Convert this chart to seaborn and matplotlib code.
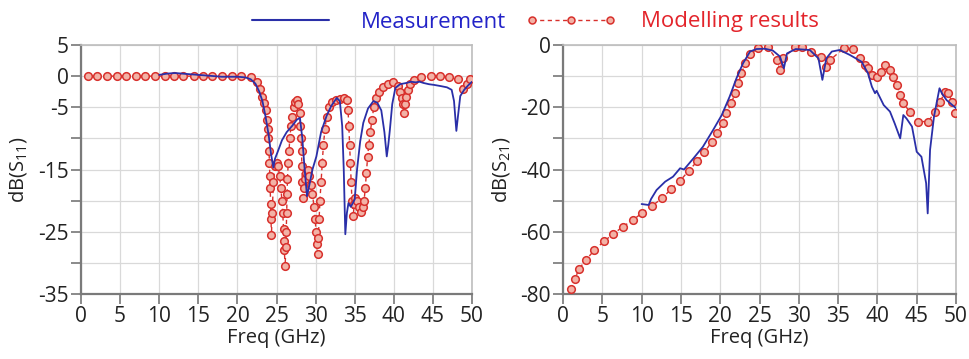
import numpy as np
import pandas as pd
import matplotlib
matplotlib.use("Agg")
import matplotlib.pyplot as plt
import seaborn as sns
from matplotlib.lines import Line2D

# ---------------- data ----------------
# S11 measurement
s11_meas_f = [10.0, 11.0, 12.0, 13.0, 14.0, 15.0, 16.0, 17.0, 18.0, 19.0, 20.0, 21.0, 21.7, 22.3, 22.8,
              23.2, 23.6, 24.0, 24.3, 24.6, 24.8, 25.2, 25.7, 26.3, 27.0, 27.6, 28.0, 28.3, 28.6, 28.9,
              29.2, 29.6, 30.1, 30.7, 31.4, 32.0, 32.7, 33.1, 33.4, 33.6, 33.8, 34.0, 34.2, 34.5, 34.8,
              35.0, 35.3, 35.7, 36.1, 36.7, 37.4, 37.9, 38.4, 38.8, 39.1, 39.3, 39.5, 39.8, 40.2, 40.8,
              41.6, 42.2, 42.8, 43.3, 43.8, 44.5, 45.1, 46.0, 46.8, 47.4, 47.7, 48.0, 48.2, 48.5, 49.0,
              49.5, 50.0]
s11_meas_db = [0.2, 0.4, 0.5, 0.4, 0.3, 0.2, 0.1, 0.0, -0.1, -0.1, -0.1, -0.2, -0.5, -1.2, -2.5,
               -4.0, -6.5, -9.5, -12.5, -14.7, -13.3, -12.0, -10.3, -9.0, -8.0, -7.0, -6.7, -10.0, -15.0, -19.3,
               -17.5, -15.0, -12.9, -9.0, -6.4, -4.8, -3.5, -4.0, -8.0, -15.0, -25.4, -22.0, -20.4, -21.0, -20.3,
               -19.8, -15.0, -10.5, -7.5, -5.2, -4.0, -4.3, -5.5, -9.0, -12.9, -11.0, -8.6, -4.5, -1.9, -1.3,
               -1.1, -0.9, -1.0, -0.9, -1.1, -1.3, -1.4, -1.6, -1.8, -2.2, -4.0, -8.8, -6.5, -3.2, -2.2,
               -1.5, -0.9]

# S11 modelling
s11_mod_f = [0.9, 2.1, 3.3, 4.6, 5.8, 7.0, 8.2, 9.5, 10.7, 11.9, 13.1, 14.4, 15.6, 16.8, 18.0, 19.3, 20.5,
             21.7, 22.5, 22.9, 23.2, 23.4, 23.6, 23.75, 23.85, 23.95, 24.05, 24.1, 24.15, 24.2, 24.25, 24.3,
             24.35, 24.45, 24.6, 24.8, 25.0, 25.2, 25.4, 25.55, 25.7, 25.8, 25.9, 25.95, 26.0, 26.1, 26.2,
             26.25, 26.3, 26.35, 26.4, 26.5, 26.6, 26.7, 26.85, 27.0, 27.2, 27.4, 27.6, 27.8, 27.95, 28.05,
             28.15, 28.2, 28.25, 28.3, 28.4, 28.5, 28.65, 28.8, 29.0, 29.2, 29.4, 29.6, 29.8, 29.95, 30.05,
             30.15, 30.25, 30.35, 30.45, 30.55, 30.7, 30.85, 31.0, 31.2, 31.4, 31.7, 32.1, 32.6, 33.1, 33.6,
             34.0, 34.15, 34.25, 34.35, 34.45, 34.55, 34.65, 34.8, 34.95, 35.1, 35.3, 35.5, 35.75, 36.0,
             36.2, 36.35, 36.5, 36.65, 36.8, 37.0, 37.2, 37.45, 37.75, 38.1, 38.6, 39.2, 39.9, 40.5, 40.8,
             41.0, 41.15, 41.3, 41.45, 41.6, 41.8, 42.1, 42.6, 43.5, 44.7, 45.9, 47.1, 48.2, 48.8, 49.3, 49.7]
s11_mod_db = [0.0, 0.0, 0.0, 0.0, 0.0, 0.0, 0.0, 0.0, 0.0, 0.0, 0.0, 0.0, 0.0, 0.0, 0.0, 0.0, 0.0,
              -0.2, -1.0, -2.0, -3.3, -4.3, -5.5, -7.0, -8.5, -10.0, -12.0, -14.0, -16.0, -18.0, -20.5, -23.0,
              -25.5, -22.0, -17.0, -14.5, -14.0, -14.5, -16.0, -18.0, -20.0, -22.0, -24.5, -26.5, -28.0, -30.5, -27.5,
              -25.0, -22.0, -19.0, -16.5, -14.0, -12.0, -10.0, -8.0, -6.5, -5.0, -4.2, -3.8, -4.5, -6.0, -8.0,
              -10.0, -12.0, -14.5, -17.0, -19.5, -18.0, -16.5, -15.5, -15.0, -16.0, -17.5, -19.0, -21.0, -23.0, -25.0,
              -27.0, -28.5, -26.0, -23.0, -20.0, -17.0, -14.0, -11.0, -8.5, -6.5, -5.0, -4.2, -3.8, -3.6, -3.5,
              -3.8, -5.5, -8.0, -11.0, -14.0, -17.0, -20.0, -22.5, -20.5, -19.5, -20.0, -21.0, -21.8, -21.0,
              -20.0, -18.0, -15.5, -13.0, -11.0, -9.0, -7.0, -5.0, -3.5, -2.5, -1.8, -1.2, -1.0, -1.6, -2.6,
              -3.5, -4.5, -5.9, -4.5, -3.3, -2.3, -1.3, -0.6, -0.2, 0.0, 0.0, -0.1, -0.5, -2.0, -1.2, -0.5]

# S21 measurement
s21_meas_f = [10.0, 10.9, 11.2, 11.9, 13.0, 14.0, 14.9, 15.4, 16.6, 17.8, 19.1, 20.2, 21.2, 22.1, 22.9,
              23.8, 24.6, 25.7, 26.7, 27.6, 28.1, 28.5, 29.6, 31.4, 32.5, 33.0, 33.5, 34.2, 35.2, 36.5,
              38.0, 38.8, 39.3, 39.7, 39.9, 40.8, 41.6, 42.2, 42.9, 43.3, 43.7, 44.4, 45.0, 45.6, 46.2,
              46.4, 46.7, 47.2, 47.9, 48.2, 48.8, 50.0]
s21_meas_db = [-51.1, -51.4, -49.5, -46.6, -43.9, -42.3, -39.6, -40.0, -36.4, -32.7, -27.3, -22.5, -16.6, -10.5, -5.9,
               -2.1, -1.3, -1.2, -1.8, -3.7, -7.5, -2.7, -1.3, -1.6, -4.3, -11.2, -4.3, -2.1, -1.6, -3.2,
               -5.4, -9.1, -13.4, -15.5, -14.7, -19.3, -21.4, -25.2, -30.0, -22.5, -23.6, -26.2, -34.3, -35.9, -44.4,
               -54.1, -33.7, -23.0, -13.9, -15.5, -17.7, -20.3]

# S21 modelling
s21_mod_f = [1.0, 1.5, 2.0, 2.9, 4.0, 5.2, 6.4, 7.6, 8.9, 10.0, 11.3, 12.6, 13.7, 14.9, 16.0, 17.1, 18.0,
             18.9, 19.6, 20.3, 20.8, 21.4, 21.9, 22.3, 22.7, 23.2, 23.8, 24.8, 26.1, 27.2, 27.6, 28.0, 29.5,
             30.4, 31.6, 32.8, 33.5, 34.0, 35.7, 36.9, 37.8, 38.4, 38.8, 39.3, 39.9, 40.5, 41.0, 41.6, 42.0,
             42.5, 42.9, 43.3, 44.1, 45.2, 46.5, 47.3, 48.0, 48.6, 49.0, 49.5, 49.9]
s21_mod_db = [-78.4, -75.3, -72.1, -69.1, -65.9, -63.1, -60.7, -58.4, -56.2, -54.1, -51.7, -49.3, -46.4, -43.6, -40.4, -37.3, -34.4,
              -31.2, -28.4, -25.2, -22.0, -18.7, -15.5, -12.3, -9.1, -5.9, -2.9, -1.1, -0.8, -4.8, -8.0, -4.3, -0.8,
              -0.8, -2.1, -4.0, -7.0, -4.8, -1.1, -1.4, -4.3, -6.4, -7.5, -9.6, -10.2, -8.6, -6.4, -8.0, -10.2,
              -12.9, -16.1, -18.7, -21.4, -24.6, -24.6, -21.4, -18.2, -15.0, -15.5, -18.2, -22.0]

x_ticks = [0, 5, 10, 15, 20, 25, 30, 35, 40, 45, 50]
s11_yticks = [5, 0, -5, -10, -15, -20, -25, -30, -35]
s11_ylabels = ["5", "0", "-5", "", "-15", "", "-25", "", "-35"]
s21_yticks = [0, -10, -20, -30, -40, -50, -60, -70, -80]
s21_ylabels = ["0", "", "-20", "", "-40", "", "-60", "", "-80"]

# ---------------- style ----------------
sns.set_theme(style="whitegrid")
plt.rcParams["font.family"] = ["Open Sans", "DejaVu Sans"]
plt.rcParams["mathtext.default"] = "regular"

BLUE = "#2a2fa8"
RED = "#d8302c"
RED_FILL = "#f2b2a6"

fig = plt.figure(figsize=(9.69, 3.59), dpi=100)
ax1 = fig.add_axes([81 / 969, 1 - 294 / 359, 391 / 969, 249 / 359])
ax2 = fig.add_axes([563 / 969, 1 - 294 / 359, 393 / 969, 249 / 359])

def draw(ax, mf, md, sf, sd):
    dm = pd.DataFrame({"f": sf, "db": sd})
    sns.lineplot(data=dm, x="f", y="db", ax=ax, color=RED, linestyle=(0, (3, 2.5)), linewidth=1.0,
                 marker="o", markersize=5.5, markerfacecolor=RED_FILL, markeredgecolor=RED,
                 markeredgewidth=1.1, sort=False, estimator=None, zorder=3)
    dmeas = pd.DataFrame({"f": mf, "db": md})
    sns.lineplot(data=dmeas, x="f", y="db", ax=ax, color=BLUE, linewidth=1.3,
                 sort=False, estimator=None, zorder=4)

draw(ax1, s11_meas_f, s11_meas_db, s11_mod_f, s11_mod_db)
draw(ax2, s21_meas_f, s21_meas_db, s21_mod_f, s21_mod_db)

for ax, yt, yl, ylim, lab in [(ax1, s11_yticks, s11_ylabels, (-35, 5), "dB(S$_{11}$)"),
                              (ax2, s21_yticks, s21_ylabels, (-80, 0), "dB(S$_{21}$)")]:
    ax.set_xlim(0, 50)
    ax.set_ylim(*ylim)
    ax.set_xticks(x_ticks)
    ax.set_xticklabels([str(t) for t in x_ticks])
    ax.set_yticks(yt)
    ax.set_yticklabels(yl)
    ax.grid(True, color="#d9d9d9", linewidth=0.9)
    ax.tick_params(axis="both", which="both", direction="out", length=7, width=1.2,
                   color="#777777", labelsize=15, labelcolor="#222222", pad=2,
                   left=True, bottom=True)
    for s in ["left", "bottom"]:
        ax.spines[s].set_color("#7a7a7a")
        ax.spines[s].set_linewidth(1.6)
    for s in ["top", "right"]:
        ax.spines[s].set_color("#bdbdbd")
        ax.spines[s].set_linewidth(1.2)
    ax.set_xlabel("Freq (GHz)", fontsize=14.5, color="#222222", labelpad=0)
    ax.set_ylabel(lab, fontsize=14.5, color="#222222", labelpad=6)
    ax.set_facecolor("white")

handles = [Line2D([], [], color=BLUE, linewidth=1.5),
           Line2D([], [], color=RED, linestyle=(0, (3, 2.5)), linewidth=1.0, marker="o", markersize=5,
                  markerfacecolor=RED_FILL, markeredgecolor=RED, markeredgewidth=1.1)]
leg = fig.legend(handles, ["Measurement", "Modelling results"], loc="center",
                 bbox_to_anchor=(532 / 969, 1 - 22 / 359), ncol=2, frameon=False,
                 fontsize=16, handlelength=4.1, numpoints=3, columnspacing=0.9, handletextpad=1.1)
for t, c in zip(leg.get_texts(), ["#2323c8", "#e3242b"]):
    t.set_color(c)

fig.savefig("out.png", dpi=100, facecolor="white")
